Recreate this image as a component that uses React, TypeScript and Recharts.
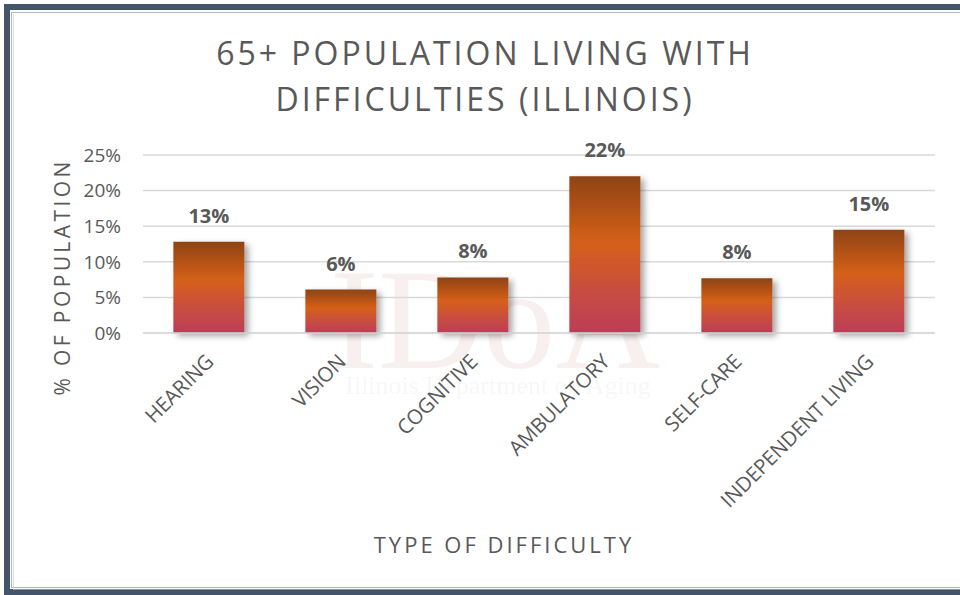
import React from 'react';
import { BarChart, Bar, XAxis, YAxis, CartesianGrid, LabelList } from 'recharts';

const categories = ['HEARING', 'VISION', 'COGNITIVE', 'AMBULATORY', 'SELF-CARE', 'INDEPENDENT LIVING'];
const percentValues = [12.8, 6.1, 7.8, 22.0, 7.7, 14.5];
const percentLabels = ['13%', '6%', '8%', '22%', '8%', '15%'];
const yTicks = [0, 5, 10, 15, 20, 25];

const data = categories.map((name, i) => ({
  name,
  value: percentValues[i],
  label: percentLabels[i],
}));

const TEXT = '#595959';
const FONT = '"Open Sans", "Noto Sans", sans-serif';

function CategoryTick(props: any) {
  const { x, y, payload } = props;
  return (
    <g transform={`translate(${x + 6},${y + 22}) rotate(-45)`}>
      <text textAnchor="end" fill={TEXT} fontSize={20.5} fontFamily={FONT} letterSpacing={-0.2}>
        {payload.value}
      </text>
    </g>
  );
}

function TopLabel(props: any) {
  const { x, y, width, value } = props;
  return (
    <text
      x={x + width / 2}
      y={y - 19}
      textAnchor="middle"
      fill={TEXT}
      fontSize={20}
      fontWeight="bold"
      fontFamily={FONT}
    >
      {value}
    </text>
  );
}

export default function App() {
  return (
    <div style={{ position: 'absolute', left: 0, top: 0, width: 960, height: 595, background: '#fff', overflow: 'hidden' }}>
      {/* frame */}
      <div style={{ position: 'absolute', left: 4, top: 4, right: -20, bottom: 0, border: '6px solid #44546a', borderRight: 'none' }} />
      <div style={{ position: 'absolute', left: 11, top: 12, right: -20, bottom: 7, border: '1px solid #adb9ca', borderRight: 'none' }} />
      <div style={{ position: 'absolute', left: 13, top: 14, right: -20, bottom: 5, border: '1px solid #8496b0', borderRight: 'none', borderTop: 'none', borderLeft: '1px solid #d6dce5' }} />

      {/* faint watermark */}
      <svg width={960} height={595} style={{ position: 'absolute', left: 0, top: 0, opacity: 0.4 }}>
        <text x={495} y={368} textAnchor="middle" fill="#f0d8d8" fontSize={145} fontFamily="'Liberation Serif', serif">
          IDoA
        </text>
        <text x={498} y={394} textAnchor="middle" fill="#ececec" fontSize={26} fontFamily="'Liberation Serif', serif">
          Illinois Department on Aging
        </text>
      </svg>

      <svg width={0} height={0} style={{ position: 'absolute' }}>
        <defs>
          <linearGradient id="barGrad" x1="0" y1="0" x2="0" y2="1">
            <stop offset="0%" stopColor="#8e4313" />
            <stop offset="42%" stopColor="#d5601a" />
            <stop offset="75%" stopColor="#c74c42" />
            <stop offset="100%" stopColor="#bd3d58" />
          </linearGradient>
          <filter id="barShadow" x="-20%" y="-20%" width="150%" height="150%">
            <feDropShadow dx="4" dy="3" stdDeviation="3" floodColor="#000" floodOpacity="0.35" />
          </filter>
        </defs>
      </svg>

      <div style={{ position: 'absolute', left: 0, top: 0 }}>
        <BarChart
          width={960}
          height={595}
          data={data}
          margin={{ top: 155, right: 25, bottom: 162, left: 0 }}
          barCategoryGap="23%"
        >
          <CartesianGrid vertical={false} stroke="#d9d9d9" strokeWidth={1.5} />
          <XAxis
            dataKey="name"
            height={100}
            tickLine={false}
            axisLine={{ stroke: '#d9d9d9', strokeWidth: 1.5 }}
            interval={0}
            tick={<CategoryTick />}
          />
          <YAxis
            width={143}
            domain={[0, 25]}
            ticks={yTicks}
            tickFormatter={(v) => `${v}%`}
            axisLine={false}
            tickLine={false}
            tickMargin={16}
            tick={{ fill: TEXT, fontSize: 19, fontFamily: FONT }}
          />
          <Bar dataKey="value" fill="url(#barGrad)" filter="url(#barShadow)" isAnimationActive={false}>
            <LabelList dataKey="label" content={<TopLabel />} />
          </Bar>
        </BarChart>
      </div>

      {/* titles */}
      <svg width={960} height={595} style={{ position: 'absolute', left: 0, top: 0, pointerEvents: 'none' }}>
        <text x={485} y={65} textAnchor="middle" fill={TEXT} fontSize={32} fontFamily={FONT} letterSpacing={3}>
          65+ POPULATION LIVING WITH
        </text>
        <text x={485} y={111} textAnchor="middle" fill={TEXT} fontSize={32} fontFamily={FONT} letterSpacing={3}>
          DIFFICULTIES (ILLINOIS)
        </text>
        <text
          transform="translate(70,277) rotate(-90)"
          textAnchor="middle"
          fill={TEXT}
          fontSize={21}
          fontFamily={FONT}
          letterSpacing={3.4}
        >
          % OF POPULATION
        </text>
        <text x={504} y={553} textAnchor="middle" fill={TEXT} fontSize={22} fontFamily={FONT} letterSpacing={3}>
          TYPE OF DIFFICULTY
        </text>
      </svg>
    </div>
  );
}
